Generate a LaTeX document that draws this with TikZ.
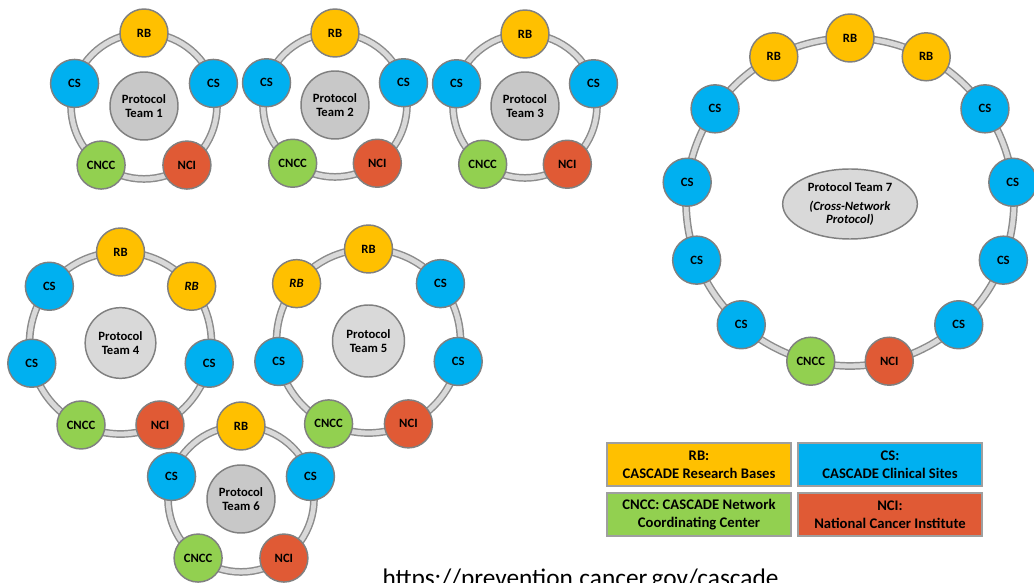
\documentclass[tikz,border=0pt]{standalone}
\usepackage{fontspec}
\setmainfont{Carlito}
\usepackage{tikz}
\usetikzlibrary{positioning,shapes.geometric,backgrounds}
\definecolor{rbcol}{HTML}{FFC000}
\definecolor{cscol}{HTML}{00B0F0}
\definecolor{cncccol}{HTML}{92D050}
\definecolor{ncicol}{HTML}{E05A35}
\definecolor{edge}{HTML}{808080}
\definecolor{band}{HTML}{D9D9D9}
\definecolor{hubdark}{HTML}{C8C8C8}
\definecolor{hublight}{HTML}{D9D9D9}

\begin{document}
\begin{tikzpicture}[x=0.75pt,y=0.75pt,
  unit/.style={circle,draw=edge,line width=1.1pt,minimum size=36pt,inner sep=0pt,font=\bfseries\fontsize{9.5}{10}\selectfont},
  rb/.style={unit,fill=rbcol},
  clin/.style={unit,fill=cscol},
  cncc/.style={unit,fill=cncccol},
  nci/.style={unit,fill=ncicol},
  hub/.style={circle,draw=edge,line width=1.1pt,minimum size=51pt,inner sep=0pt,fill=hubdark,align=center,font=\bfseries\fontsize{9.5}{10.5}\selectfont},
  ring/.style={draw=gray!90,line width=1.1pt,double=band,double distance=3.6pt},
  ring5/.style={ring,bend right=36,looseness=0.94},
  ring7/.style={ring,bend right=25.7,looseness=0.9},
  ring13/.style={ring,bend right=13.85,looseness=0.86},
  key/.style={rectangle,draw=gray!75,line width=1.5pt,minimum width=138pt,minimum height=32.25pt,inner sep=0pt,align=center,font=\bfseries\fontsize{11}{13.3}\selectfont}
]
\useasboundingbox (0,0) rectangle (1034,582);

% team 1
\begin{scope}[shift={(144,476)}]
\node[hub] (c1) {Protocol\\Team 1};
\node[rb] (t1a) at (90:73) {RB};
\node[clin] (t1b) at (162:73) {CS};
\node[cncc] (t1c) at (234:73) {CNCC};
\node[nci] (t1d) at (306:73) {NCI};
\node[clin] (t1e) at (18:73) {CS};
\end{scope}
% team 2
\begin{scope}[shift={(335,477)}]
\node[hub] (c2) {Protocol\\Team 2};
\node[rb] (t2a) at (90:72) {RB};
\node[clin] (t2b) at (162:72) {CS};
\node[cncc] (t2c) at (234:72) {CNCC};
\node[nci] (t2d) at (306:72) {NCI};
\node[clin] (t2e) at (18:72) {CS};
\end{scope}
% team 3
\begin{scope}[shift={(525,476)}]
\node[hub] (c3) {Protocol\\Team 3};
\node[rb] (t3a) at (90:72) {RB};
\node[clin] (t3b) at (162:72) {CS};
\node[cncc] (t3c) at (234:72) {CNCC};
\node[nci] (t3d) at (306:72) {NCI};
\node[clin] (t3e) at (18:72) {CS};
\end{scope}
% team 4
\begin{scope}[shift={(120.5,239)}]
\node[hub,fill=hublight,minimum size=53pt] (c4) {Protocol\\Team 4};
\node[rb] (t4a) at (90:91) {RB};
\node[clin] (t4b) at (141.43:91) {CS};
\node[clin] (t4c) at (192.86:91) {CS};
\node[cncc] (t4d) at (244.29:91) {CNCC};
\node[nci] (t4e) at (295.71:91) {NCI};
\node[clin] (t4f) at (347.14:91) {CS};
\node[rb] (t4g) at (38.57:91) {\textit{RB}};
\end{scope}
% team 5
\begin{scope}[shift={(368.5,241)}]
\node[hub,fill=hublight,minimum size=54pt] (c5) {Protocol\\Team 5};
\node[rb] (t5a) at (90:92) {RB};
\node[rb] (t5b) at (141.43:92) {\textit{RB}};
\node[clin] (t5c) at (192.86:92) {CS};
\node[cncc] (t5d) at (244.29:92) {CNCC};
\node[nci] (t5e) at (295.71:92) {NCI};
\node[clin] (t5f) at (347.14:92) {CS};
\node[clin] (t5g) at (38.57:92) {CS};
\end{scope}
% team 6
\begin{scope}[shift={(241,83)}]
\node[hub] (c6) {Protocol\\Team 6};
\node[rb] (t6a) at (90:73) {RB};
\node[clin] (t6b) at (162:73) {CS};
\node[cncc] (t6c) at (234:73) {CNCC};
\node[nci] (t6d) at (306:73) {NCI};
\node[clin] (t6e) at (18:73) {CS};
\end{scope}
% team 7 (cross-network)
\begin{scope}[shift={(850,380)}]
\node[ellipse,draw=edge,line width=1.1pt,fill=hublight,minimum width=101pt,minimum height=52.5pt,inner sep=0pt,align=center,font=\bfseries\fontsize{9.5}{10}\selectfont] (c7) at (0,-2) {Protocol Team 7\\[4pt]\textit{(Cross-Network}\\\textit{Protocol)}};
\node[rb] (t7a) at (90:164) {RB};
\node[rb] (t7b) at (117.69:164) {RB};
\node[clin] (t7c) at (145.38:164) {CS};
\node[clin] (t7d) at (173.08:164) {CS};
\node[clin] (t7e) at (200.77:164) {CS};
\node[clin] (t7f) at (228.46:164) {CS};
\node[cncc] (t7g) at (256.15:164) {CNCC};
\node[nci] (t7h) at (283.85:164) {NCI};
\node[clin] (t7i) at (311.54:164) {CS};
\node[clin] (t7j) at (339.23:164) {CS};
\node[clin] (t7k) at (6.92:164) {CS};
\node[clin] (t7l) at (34.62:164) {CS};
\node[rb] (t7m) at (62.31:164) {RB};
\end{scope}

% rings behind the units
\begin{scope}[on background layer]
\draw[ring5] (t1a.center) to (t1b.center) to (t1c.center) to (t1d.center) to (t1e.center) to (t1a.center);
\draw[ring5] (t2a.center) to (t2b.center) to (t2c.center) to (t2d.center) to (t2e.center) to (t2a.center);
\draw[ring5] (t3a.center) to (t3b.center) to (t3c.center) to (t3d.center) to (t3e.center) to (t3a.center);
\draw[ring7] (t4a.center) to (t4b.center) to (t4c.center) to (t4d.center) to (t4e.center) to (t4f.center) to (t4g.center) to (t4a.center);
\draw[ring7] (t5a.center) to (t5b.center) to (t5c.center) to (t5d.center) to (t5e.center) to (t5f.center) to (t5g.center) to (t5a.center);
\draw[ring5] (t6a.center) to (t6b.center) to (t6c.center) to (t6d.center) to (t6e.center) to (t6a.center);
\draw[ring13] (t7a.center) to (t7b.center) to (t7c.center) to (t7d.center) to (t7e.center) to (t7f.center) to (t7g.center)
  to (t7h.center) to (t7i.center) to (t7j.center) to (t7k.center) to (t7l.center) to (t7m.center) to (t7a.center);
\end{scope}

% legend
\node[key,fill=rbcol] (krb) at (699,117.5) {RB:\\CASCADE Research Bases};
\node[key,fill=cscol,right=3.75pt of krb] (kcs) {CS:\\CASCADE Clinical Sites};
\node[key,fill=cncccol,below=3.75pt of krb] (kcncc) {CNCC: CASCADE Network\\Coordinating Center};
\node[key,fill=ncicol,below=3.75pt of kcs] (knci) {NCI:\\National Cancer Institute};

\node[font=\fontsize{19}{22}\selectfont,anchor=base] (url) at (580.5,-4) {https://prevention.cancer.gov/cascade};
\end{tikzpicture}
\end{document}
